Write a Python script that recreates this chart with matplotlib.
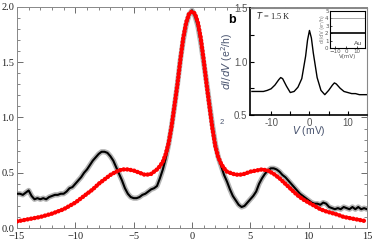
import numpy as np
import matplotlib
matplotlib.use("Agg")
import matplotlib.pyplot as plt
from matplotlib.ticker import MultipleLocator

# measured dI/dV (black) and model (red), bias V in mV
meas_v = [-15, -14.75, -14.5, -14.25, -14, -13.75, -13.5, -13.25, -13, -12.75, -12.5, -12.25,
          -12, -11.75, -11.5, -11.25, -11, -10.75, -10.5, -10.25, -10, -9.75, -9.5, -9.25,
          -9, -8.75, -8.5, -8.25, -8, -7.75, -7.5, -7.25, -7, -6.75, -6.5, -6.25,
          -6, -5.75, -5.5, -5.25, -5, -4.75, -4.5, -4.25, -4, -3.75, -3.5, -3.25,
          -3, -2.75, -2.5, -2.25, -2, -1.75, -1.5, -1.25, -1, -0.75, -0.5, -0.25,
          0, 0.25, 0.5, 0.75, 1, 1.25, 1.5, 1.75, 2, 2.25, 2.5, 2.75,
          3, 3.25, 3.5, 3.75, 4, 4.25, 4.5, 4.75, 5, 5.25, 5.5, 5.75,
          6, 6.25, 6.5, 6.75, 7, 7.25, 7.5, 7.75, 8, 8.25, 8.5, 8.75,
          9, 9.25, 9.5, 9.75, 10, 10.25, 10.5, 10.75, 11, 11.25, 11.5, 11.75,
          12, 12.25, 12.5, 12.75, 13, 13.25, 13.5, 13.75, 14, 14.25, 14.5, 14.75, 15]
meas_g = [0.31, 0.31, 0.30, 0.32, 0.34, 0.29, 0.26, 0.27, 0.26, 0.27, 0.26, 0.28,
          0.29, 0.30, 0.30, 0.31, 0.31, 0.33, 0.36, 0.37, 0.40, 0.43, 0.46, 0.50,
          0.53, 0.57, 0.61, 0.64, 0.67, 0.69, 0.69, 0.68, 0.65, 0.61, 0.55, 0.49,
          0.43, 0.36, 0.31, 0.28, 0.27, 0.27, 0.28, 0.30, 0.31, 0.33, 0.35, 0.36,
          0.38, 0.45, 0.53, 0.63, 0.76, 0.92, 1.10, 1.30, 1.52, 1.70, 1.84, 1.93,
          1.97, 1.92, 1.83, 1.68, 1.50, 1.32, 1.12, 0.93, 0.76, 0.64, 0.56, 0.48,
          0.42, 0.35, 0.29, 0.25, 0.21, 0.19, 0.20, 0.23, 0.26, 0.29, 0.33, 0.40,
          0.45, 0.49, 0.52, 0.54, 0.54, 0.53, 0.51, 0.48, 0.46, 0.43, 0.40, 0.37,
          0.34, 0.31, 0.29, 0.27, 0.25, 0.23, 0.22, 0.22, 0.21, 0.23, 0.22, 0.19,
          0.18, 0.17, 0.18, 0.17, 0.19, 0.18, 0.17, 0.19, 0.17, 0.19, 0.17, 0.18, 0.17]

model_v = [-15, -14.5, -14, -13.5, -13, -12.5, -12, -11.5, -11, -10.5, -10, -9.5,
           -9, -8.5, -8, -7.5, -7, -6.5, -6, -5.5, -5, -4.5, -4, -3.5,
           -3, -2.75, -2.5, -2.25, -2, -1.75, -1.5, -1.25, -1, -0.75, -0.5, -0.25,
           0, 0.25, 0.5, 0.75, 1, 1.25, 1.5, 1.75, 2, 2.25, 2.5, 2.75,
           3, 3.5, 4, 4.5, 5, 5.5, 6, 6.5, 7, 7.5, 8, 8.5,
           9, 9.5, 10, 10.5, 11, 11.5, 12, 12.5, 13, 13.5, 14, 14.5, 15]
model_g = [0.06, 0.07, 0.08, 0.09, 0.10, 0.115, 0.13, 0.15, 0.17, 0.20, 0.23, 0.27,
           0.31, 0.35, 0.40, 0.44, 0.48, 0.51, 0.53, 0.53, 0.52, 0.50, 0.48, 0.49,
           0.53, 0.56, 0.60, 0.67, 0.77, 0.92, 1.11, 1.30, 1.52, 1.72, 1.86, 1.94,
           1.96, 1.94, 1.86, 1.72, 1.52, 1.30, 1.10, 0.90, 0.74, 0.64, 0.58, 0.54,
           0.51, 0.49, 0.48, 0.49, 0.51, 0.52, 0.53, 0.52, 0.49, 0.45, 0.40, 0.35,
           0.30, 0.26, 0.23, 0.20, 0.17, 0.15, 0.135, 0.12, 0.10, 0.09, 0.08, 0.07, 0.06]

# inset b: T = 1.5 K trace
ins_v = [-15, -14, -13, -12, -11, -10, -9, -8, -7.5, -7, -6, -5, -4, -3, -2, -1, -0.5,
         0, 0.5, 1, 2, 3, 4, 5, 6, 6.5, 7, 8, 9, 10, 11, 12, 13, 14, 15]
ins_g = [0.72, 0.72, 0.72, 0.72, 0.73, 0.745, 0.78, 0.83, 0.85, 0.84, 0.77, 0.71, 0.72,
         0.76, 0.84, 1.05, 1.20, 1.29, 1.22, 1.08, 0.85, 0.73, 0.69, 0.73, 0.78, 0.80,
         0.79, 0.75, 0.72, 0.71, 0.70, 0.70, 0.69, 0.69, 0.69]

# small inset: Au reference
au_v = [-15, 17]
au_g = [2.0, 2.0]

serif = "Liberation Serif"
sans = "Liberation Sans"
lblcol = "#4a5570"

fig = plt.figure(figsize=(3.74, 2.47), dpi=100)
ax = fig.add_axes([17 / 374, 1 - 228 / 247, 350 / 374, 221 / 247])

ax.plot(meas_v, meas_g, color="#b4b4b4", lw=3.8, solid_capstyle="round", zorder=2)
ax.plot(meas_v, meas_g, color="black", lw=1.5, zorder=3)
ax.plot(model_v, model_g, color="red", lw=3.2, dashes=(0.05, 0.75),
        dash_capstyle="round", zorder=4)

ax.set_xlim(-15, 15)
ax.set_ylim(0, 2.0)
ax.xaxis.set_major_locator(MultipleLocator(5))
ax.xaxis.set_minor_locator(MultipleLocator(1))
ax.yaxis.set_major_locator(MultipleLocator(0.5))
ax.yaxis.set_minor_locator(MultipleLocator(0.1))
ax.yaxis.set_major_formatter(plt.FormatStrFormatter("%.1f"))
ax.tick_params(which="both", direction="in", top=True, right=True, colors="#555555",
               labelcolor="#222222", labelsize=7.5, pad=2)
ax.tick_params(axis="x", pad=3)
ax.tick_params(which="major", length=4, width=0.6)
ax.tick_params(which="minor", length=2, width=0.5)
for lab in ax.get_xticklabels() + ax.get_yticklabels():
    lab.set_fontfamily(serif)
for s in ax.spines.values():
    s.set_color("#888888")
    s.set_linewidth(0.7)

# inset b
axb = fig.add_axes([250 / 374, 1 - 115 / 247, 117 / 374, 107 / 247])
axb.plot(ins_v, ins_g, color="black", lw=1.0)
axb.set_xlim(-15.5, 15)
axb.set_ylim(0.5, 1.5)
axb.set_xticks([-10, -5, 0, 5, 10])
axb.set_xticklabels(["-10", "", "0", "", "10"])
axb.set_yticks([0.5, 1.0, 1.5])
axb.set_yticklabels(["0.5", "1.0", "1.5"])
axb.yaxis.set_minor_locator(MultipleLocator(0.25))
axb.tick_params(which="both", direction="in", labelsize=7, pad=2, labelcolor="#555555",
                length=3, width=0.8)
for lab in axb.get_xticklabels() + axb.get_yticklabels():
    lab.set_fontfamily(sans)
axb.spines["left"].set_linewidth(1.2)
axb.spines["bottom"].set_linewidth(1.2)
axb.spines["top"].set_color("#888888")
axb.spines["right"].set_color("#888888")
axb.set_ylabel(r"$dI/dV$ (e$^2$/h)", fontsize=7.5, fontfamily=sans, color=lblcol, labelpad=-1)
axb.set_xlabel(r"$V$ (mV)", fontsize=7.5, fontfamily=sans, color=lblcol, labelpad=-3)
axb.text(0.05, 0.9, r"$T$ = 1.5 K", transform=axb.transAxes, fontsize=6,
         fontfamily=serif, color="#222222")

fig.text(232 / 374, 1 - 20 / 247, "b", fontsize=9, fontweight="bold", fontfamily=sans,
         ha="center", va="center")
fig.text(222 / 374, 1 - 123 / 247, "2", fontsize=5.5, fontfamily=sans, color=lblcol,
         ha="center", va="center")

# inner inset: Au reference
axc = fig.add_axes([330 / 374, 1 - 48 / 247, 35 / 374, 37 / 247])
axc.plot(au_v, au_g, color="black", lw=1.2)
axc.axhline(4, color="#999999", lw=0.6)
axc.set_xlim(-15, 17)
axc.set_ylim(0, 5)
axc.set_xticks([-10, 0, 10])
axc.set_yticks([0, 1, 2, 3, 4, 5])
axc.tick_params(direction="in", labelsize=4, pad=1, length=1.5, width=0.5,
                labelcolor="#555555")
axc.set_xlabel("V(mV)", fontsize=4, color="#555555", labelpad=0)
axc.set_ylabel("dI/dV (e²/h)", fontsize=3.5, color="#777777", labelpad=0)
axc.text(0.92, 0.08, "Au", transform=axc.transAxes, fontsize=4.5, ha="right",
         color="#444444")
for s in axc.spines.values():
    s.set_linewidth(0.8)

fig.savefig("out.png", dpi=100)
